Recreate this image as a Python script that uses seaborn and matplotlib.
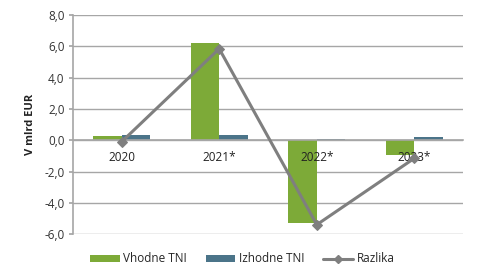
import matplotlib
matplotlib.use("Agg")
import matplotlib.pyplot as plt
import seaborn as sns
import pandas as pd
import numpy as np
from matplotlib.patches import Patch
from matplotlib.lines import Line2D

categories = ["2020", "2021*", "2022*", "2023*"]
vhodne = [0.25, 6.2, -5.3, -0.95]
izhodne = [0.35, 0.35, 0.1, 0.2]
razlika = [-0.1, 5.85, -5.4, -1.15]
series = ["Vhodne TNI", "Izhodne TNI"]
yticks = [-6, -4, -2, 0, 2, 4, 6, 8]

green = "#7DAA38"
blue = "#4B7489"
gray = "#7F7F7F"

sns.set_theme(style="white")
plt.rcParams["font.family"] = ["Open Sans", "DejaVu Sans"]

df = pd.DataFrame({
    "cat": categories * 2,
    "val": vhodne + izhodne,
    "ser": [series[0]] * 4 + [series[1]] * 4,
})

fig = plt.figure(figsize=(4.79, 2.80), dpi=100)
ax = fig.add_axes([0.152, 0.164, 0.815, 0.782])

sns.barplot(data=df, x="cat", y="val", hue="ser", palette=[green, blue],
            width=0.58, ax=ax, legend=False, saturation=1, edgecolor="none")
line_df = pd.DataFrame({"x": np.arange(len(categories)), "y": razlika})
sns.lineplot(data=line_df, x="x", y="y", ax=ax, color=gray, linewidth=2.2,
             marker="D", markersize=5, markeredgecolor=gray, legend=False)
for l in ax.lines:
    l.set_zorder(4)

ax.set_ylim(-6, 8)
ax.set_xlim(-0.5, 3.5)
ax.set_yticks(yticks)
ax.set_yticklabels([f"{v:.1f}".replace(".", ",") for v in yticks], fontsize=8.5, color="#333333")
ax.yaxis.grid(True, color="#A6A6A6", linewidth=1)
ax.set_axisbelow(True)
ax.xaxis.set_zorder(3)
ax.set_xlabel("")
ax.set_ylabel("V mlrd EUR", fontsize=8, fontweight="bold", color="#222222", labelpad=6)

for s in ["top", "right"]:
    ax.spines[s].set_visible(False)
ax.spines["left"].set_color("#A6A6A6")
ax.spines["left"].set_linewidth(1.2)
ax.spines["bottom"].set_position(("data", 0))
ax.spines["bottom"].set_color("#A6A6A6")
ax.spines["bottom"].set_linewidth(1.2)
ax.tick_params(axis="x", length=0, pad=8, labelsize=8.5, labelcolor="#222222")
ax.tick_params(axis="y", length=3, color="#A6A6A6", pad=3, left=True)
ax.set_xticks(range(len(categories)))
ax.set_xticklabels(categories)

handles = [
    Patch(facecolor=green, edgecolor="none", label=series[0]),
    Patch(facecolor=blue, edgecolor="none", label=series[1]),
    Line2D([0], [0], color=gray, linewidth=2.2, marker="D", markersize=4, label="Razlika"),
]
fig.legend(handles=handles, loc="center", bbox_to_anchor=(0.506, 0.075), ncol=3,
           frameon=False, fontsize=8.5, handlelength=2.5, handleheight=0.55,
           columnspacing=1.6, handletextpad=0.3)

fig.savefig("out.png", dpi=100)
